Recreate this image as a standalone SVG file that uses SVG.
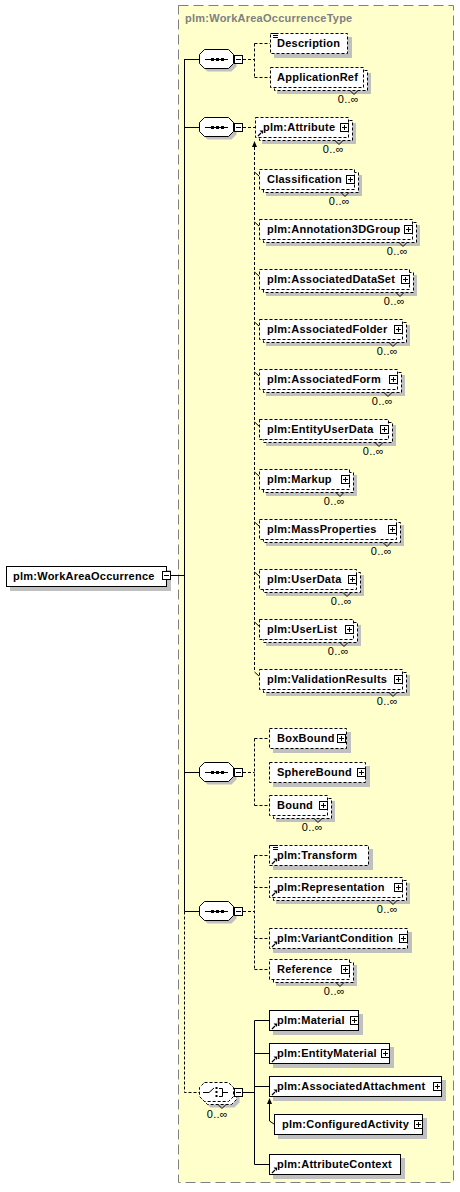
<svg xmlns="http://www.w3.org/2000/svg" xmlns:xlink="http://www.w3.org/1999/xlink" width="460" height="1192" viewBox="0 0 460 1192">
<style>
.t{font-family:"Liberation Sans",Arial,sans-serif;font-size:11px;font-weight:bold;letter-spacing:0.25px;fill:#000}
.tt{font-family:"Liberation Sans",Arial,sans-serif;font-size:11px;font-weight:bold;letter-spacing:0.25px;fill:#808080}
.m{font-family:"Liberation Sans",Arial,sans-serif;font-size:11px;letter-spacing:0.3px;fill:#000;text-anchor:end}
.box{fill:#fff;stroke:#000;stroke-width:1}
.opt{stroke-dasharray:3,2}
.sh{fill:#c0c0c0}
.ln{stroke:#000;stroke-width:1;fill:none}
.dl{stroke-dasharray:3,2}
.tk{stroke:#000;stroke-width:1;fill:none}
</style>
<defs>
<g id="plus"><rect x="0.5" y="0.5" width="8" height="8" fill="#fff" stroke="#000"/><path d="M2,4.5H7M4.5,2V7" stroke="#000"/></g>
<g id="minus"><rect x="0.5" y="0.5" width="8" height="8" fill="#fff" stroke="#000"/><path d="M2,4.5H7" stroke="#000"/></g>
<g id="ref"><path d="M1,6L4,3" stroke="#000" stroke-width="1.2"/><polygon points="2.5,0.5 6,0.5 6,4" fill="#000"/></g>
<g id="doc"><rect x="0" y="-0.5" width="6" height="6" fill="#fff"/><path d="M0,0.5H6M1,2.5H6M1,4.5H6" stroke="#000"/></g>
<polygon id="oct" points="5.5,-9.5 29.5,-9.5 34.5,-4.5 34.5,4.5 29.5,9.5 5.5,9.5 0.5,4.5 0.5,-4.5"/>
<g id="seq">
<use xlink:href="#oct" transform="translate(3,3)" class="sh"/>
<use xlink:href="#oct" fill="#fff" stroke="#000"/>
<path d="M6,0.5H29" stroke="#000"/>
<rect x="12" y="-1" width="3" height="3" fill="#000"/>
<rect x="17" y="-1" width="3" height="3" fill="#000"/>
<rect x="22" y="-1" width="3" height="3" fill="#000"/>
<use xlink:href="#minus" x="35" y="-4"/>
</g>
</defs>

<rect x="178.5" y="5.5" width="275" height="1177" fill="#ffffcc" stroke="#808080" stroke-dasharray="10,5"/>
<text class="tt" x="185" y="22">plm:WorkAreaOccurrenceType</text>

<g id="connectors">
<path class="ln" d="M171,575.5H184.5M184.5,59V911.5"/>
<path class="ln dl" d="M184.5,911.5V1092.5H199"/>
<path class="ln" d="M184.5,59.5H199M184.5,127.5H199M184.5,772.5H199M184.5,911.5H199"/>
<path class="ln dl" d="M243,59.5H254.5M254.5,43.5V77.5M254.5,43.5H270M254.5,77.5H270"/>
<path class="ln dl" d="M243,127.5H255"/>
<path class="ln dl" d="M254.5,147V672"/>
<polygon points="254.5,141 252,147 257,147" fill="#000"/>
<path class="ln" d="M254.5,172L259,176M254.5,222L259,226M254.5,272L259,276M254.5,322L259,326M254.5,372L259,376M254.5,422L259,426M254.5,472L259,476M254.5,522L259,526M254.5,572L259,576M254.5,622L259,626M254.5,672L259,676"/>
<path class="ln dl" d="M243,772.5H254.5M254.5,738.5V805.5M254.5,738.5H269M254.5,805.5H269"/>
<path class="ln dl" d="M243,911.5H254.5M254.5,855.5V969.5M254.5,855.5H269M254.5,887.5H269M254.5,938.5H269M254.5,969.5H269"/>
<path class="ln" d="M243,1092.5H254.5M254.5,1020.5V1164.5M254.5,1020.5H269M254.5,1053.5H269M254.5,1086.5H269M254.5,1164.5H269"/>
<path class="ln" d="M269.5,1104V1121L274,1124"/>
<polygon points="269.5,1098 267,1104 272,1104" fill="#000"/>
</g>

<g id="n-root">
<rect class="sh" x="10" y="570" width="161" height="21"/>
<rect class="box" x="6.5" y="566.5" width="160" height="20"/>
<text class="t" x="13" y="580">plm:WorkAreaOccurrence</text>
<use xlink:href="#minus" x="162" y="571"/>
</g>

<g id="c-seq1"><use xlink:href="#seq" transform="translate(199,59)"/></g>
<g id="c-seq2"><use xlink:href="#seq" transform="translate(199,127)"/></g>
<g id="c-seq3"><use xlink:href="#seq" transform="translate(199,772)"/></g>
<g id="c-seq4"><use xlink:href="#seq" transform="translate(199,911)"/></g>
<g id="c-choice" transform="translate(199,1092)">
<use xlink:href="#oct" transform="translate(6,6)" class="sh"/>
<use xlink:href="#oct" transform="translate(3,3)" fill="#fff" stroke="#000" stroke-dasharray="3,2"/>
<use xlink:href="#oct" fill="#fff" stroke="#000" stroke-dasharray="3,2"/>
<path d="M4,0.5H10L15,-4M20,-3.5H23.5V4.5H20M23.5,0.5H29" stroke="#000" fill="none"/>
<rect x="16.5" y="-5" width="2" height="2" fill="#000"/>
<rect x="16.5" y="-1" width="2" height="2" fill="#000"/>
<rect x="16.5" y="3" width="2" height="2" fill="#000"/>
<polyline class="tk" points="19,12.5 23,16.5 27,12.5"/>
<use xlink:href="#minus" x="35" y="-4"/>
<text class="m" x="29" y="26">0..∞</text>
</g>

<g id="n-description">
<rect class="sh" x="274" y="37" width="78" height="21"/>
<rect class="box opt" x="270.5" y="33.5" width="77" height="20"/>
<text class="t" x="277" y="47">Description</text>
<use xlink:href="#doc" x="272" y="33"/>
</g>
<g id="n-applicationref">
<rect class="sh" x="277" y="73" width="94" height="21"/>
<rect class="box opt" x="274.5" y="70.5" width="93" height="20"/>
<rect class="box opt" x="270.5" y="67.5" width="93" height="20"/>
<text class="t" x="277" y="81">ApplicationRef</text>
<polyline class="tk" points="350,90.5 354,94.5 358,90.5"/>
<text class="m" x="359" y="103">0..∞</text>
</g>

<g id="n-attribute">
<rect class="sh" x="262" y="123" width="94" height="21"/>
<rect class="box opt" x="259.5" y="120.5" width="93" height="20"/>
<rect class="box opt" x="255.5" y="117.5" width="93" height="20"/>
<text class="t" x="263" y="131">plm:Attribute</text>
<use xlink:href="#ref" x="257" y="130"/>
<use xlink:href="#plus" x="340" y="123"/>
<polyline class="tk" points="335,140.5 339,144.5 343,140.5"/>
<text class="m" x="344" y="153">0..∞</text>
</g>

<g id="n-classification">
<rect class="sh" x="266" y="175" width="96" height="21"/>
<rect class="box opt" x="263.5" y="172.5" width="95" height="20"/>
<rect class="box opt" x="259.5" y="169.5" width="95" height="20"/>
<text class="t" x="267" y="183">Classification</text>
<use xlink:href="#plus" x="346" y="175"/>
<polyline class="tk" points="341,192.5 345,196.5 349,192.5"/>
<text class="m" x="350" y="205">0..∞</text>
</g>

<g id="n-annotation3dgroup">
<rect class="sh" x="266" y="225" width="154" height="21"/>
<rect class="box opt" x="263.5" y="222.5" width="153" height="20"/>
<rect class="box opt" x="259.5" y="219.5" width="153" height="20"/>
<text class="t" x="267" y="233">plm:Annotation3DGroup</text>
<use xlink:href="#plus" x="404" y="225"/>
<polyline class="tk" points="399,242.5 403,246.5 407,242.5"/>
<text class="m" x="408" y="255">0..∞</text>
</g>

<g id="n-associateddataset">
<rect class="sh" x="266" y="275" width="151" height="21"/>
<rect class="box opt" x="263.5" y="272.5" width="150" height="20"/>
<rect class="box opt" x="259.5" y="269.5" width="150" height="20"/>
<text class="t" x="267" y="283">plm:AssociatedDataSet</text>
<use xlink:href="#plus" x="401" y="275"/>
<polyline class="tk" points="396,292.5 400,296.5 404,292.5"/>
<text class="m" x="405" y="305">0..∞</text>
</g>

<g id="n-associatedfolder">
<rect class="sh" x="266" y="325" width="144" height="21"/>
<rect class="box opt" x="263.5" y="322.5" width="143" height="20"/>
<rect class="box opt" x="259.5" y="319.5" width="143" height="20"/>
<text class="t" x="267" y="333">plm:AssociatedFolder</text>
<use xlink:href="#plus" x="394" y="325"/>
<polyline class="tk" points="389,342.5 393,346.5 397,342.5"/>
<text class="m" x="398" y="355">0..∞</text>
</g>

<g id="n-associatedform">
<rect class="sh" x="266" y="375" width="139" height="21"/>
<rect class="box opt" x="263.5" y="372.5" width="138" height="20"/>
<rect class="box opt" x="259.5" y="369.5" width="138" height="20"/>
<text class="t" x="267" y="383">plm:AssociatedForm</text>
<use xlink:href="#plus" x="389" y="375"/>
<polyline class="tk" points="384,392.5 388,396.5 392,392.5"/>
<text class="m" x="393" y="405">0..∞</text>
</g>

<g id="n-entityuserdata">
<rect class="sh" x="266" y="425" width="130" height="21"/>
<rect class="box opt" x="263.5" y="422.5" width="129" height="20"/>
<rect class="box opt" x="259.5" y="419.5" width="129" height="20"/>
<text class="t" x="267" y="433">plm:EntityUserData</text>
<use xlink:href="#plus" x="380" y="425"/>
<polyline class="tk" points="375,442.5 379,446.5 383,442.5"/>
<text class="m" x="384" y="455">0..∞</text>
</g>

<g id="n-markup">
<rect class="sh" x="266" y="475" width="91" height="21"/>
<rect class="box opt" x="263.5" y="472.5" width="90" height="20"/>
<rect class="box opt" x="259.5" y="469.5" width="90" height="20"/>
<text class="t" x="267" y="483">plm:Markup</text>
<use xlink:href="#plus" x="341" y="475"/>
<polyline class="tk" points="336,492.5 340,496.5 344,492.5"/>
<text class="m" x="345" y="505">0..∞</text>
</g>

<g id="n-massproperties">
<rect class="sh" x="266" y="525" width="138" height="21"/>
<rect class="box opt" x="263.5" y="522.5" width="137" height="20"/>
<rect class="box opt" x="259.5" y="519.5" width="137" height="20"/>
<text class="t" x="267" y="533">plm:MassProperties</text>
<use xlink:href="#plus" x="388" y="525"/>
<polyline class="tk" points="383,542.5 387,546.5 391,542.5"/>
<text class="m" x="392" y="555">0..∞</text>
</g>

<g id="n-userdata">
<rect class="sh" x="266" y="575" width="98" height="21"/>
<rect class="box opt" x="263.5" y="572.5" width="97" height="20"/>
<rect class="box opt" x="259.5" y="569.5" width="97" height="20"/>
<text class="t" x="267" y="583">plm:UserData</text>
<use xlink:href="#plus" x="348" y="575"/>
<polyline class="tk" points="343,592.5 347,596.5 351,592.5"/>
<text class="m" x="352" y="605">0..∞</text>
</g>

<g id="n-userlist">
<rect class="sh" x="266" y="625" width="95" height="21"/>
<rect class="box opt" x="263.5" y="622.5" width="94" height="20"/>
<rect class="box opt" x="259.5" y="619.5" width="94" height="20"/>
<text class="t" x="267" y="633">plm:UserList</text>
<use xlink:href="#plus" x="345" y="625"/>
<polyline class="tk" points="340,642.5 344,646.5 348,642.5"/>
<text class="m" x="349" y="655">0..∞</text>
</g>

<g id="n-validationresults">
<rect class="sh" x="266" y="675" width="144" height="21"/>
<rect class="box opt" x="263.5" y="672.5" width="143" height="20"/>
<rect class="box opt" x="259.5" y="669.5" width="143" height="20"/>
<text class="t" x="267" y="683">plm:ValidationResults</text>
<use xlink:href="#plus" x="394" y="675"/>
<polyline class="tk" points="389,692.5 393,696.5 397,692.5"/>
<text class="m" x="398" y="705">0..∞</text>
</g>

<g id="n-boxbound">
<rect class="sh" x="273" y="732" width="78" height="21"/>
<rect class="box opt" x="269.5" y="728.5" width="77" height="20"/>
<text class="t" x="277" y="742">BoxBound</text>
<use xlink:href="#plus" x="337" y="734"/>
</g>

<g id="n-spherebound">
<rect class="sh" x="273" y="766" width="97" height="21"/>
<rect class="box opt" x="269.5" y="762.5" width="96" height="20"/>
<text class="t" x="277" y="776">SphereBound</text>
<use xlink:href="#plus" x="357" y="768"/>
</g>

<g id="n-bound">
<rect class="sh" x="276" y="801" width="59" height="21"/>
<rect class="box opt" x="273.5" y="798.5" width="58" height="20"/>
<rect class="box opt" x="269.5" y="795.5" width="58" height="20"/>
<text class="t" x="277" y="809">Bound</text>
<use xlink:href="#plus" x="319" y="801"/>
<polyline class="tk" points="314,818.5 318,822.5 322,818.5"/>
<text class="m" x="323" y="831">0..∞</text>
</g>

<g id="n-transform">
<rect class="sh" x="273" y="849" width="100" height="21"/>
<rect class="box opt" x="269.5" y="845.5" width="99" height="20"/>
<text class="t" x="277" y="859">plm:Transform</text>
<use xlink:href="#doc" x="272" y="845"/>
<use xlink:href="#ref" x="271" y="858"/>
</g>

<g id="n-representation">
<rect class="sh" x="276" y="883" width="134" height="21"/>
<rect class="box opt" x="273.5" y="880.5" width="133" height="20"/>
<rect class="box opt" x="269.5" y="877.5" width="133" height="20"/>
<text class="t" x="277" y="891">plm:Representation</text>
<use xlink:href="#ref" x="271" y="890"/>
<use xlink:href="#plus" x="394" y="883"/>
<polyline class="tk" points="389,900.5 393,904.5 397,900.5"/>
<text class="m" x="398" y="913">0..∞</text>
</g>

<g id="n-variantcondition">
<rect class="sh" x="273" y="932" width="139" height="21"/>
<rect class="box opt" x="269.5" y="928.5" width="138" height="20"/>
<text class="t" x="277" y="942">plm:VariantCondition</text>
<use xlink:href="#ref" x="271" y="941"/>
<use xlink:href="#plus" x="399" y="934"/>
</g>

<g id="n-reference">
<rect class="sh" x="276" y="965" width="81" height="21"/>
<rect class="box opt" x="273.5" y="962.5" width="80" height="20"/>
<rect class="box opt" x="269.5" y="959.5" width="80" height="20"/>
<text class="t" x="277" y="973">Reference</text>
<use xlink:href="#plus" x="341" y="965"/>
<polyline class="tk" points="336,982.5 340,986.5 344,982.5"/>
<text class="m" x="345" y="995">0..∞</text>
</g>

<g id="n-material">
<rect class="sh" x="273" y="1014" width="90" height="21"/>
<rect class="box" x="269.5" y="1010.5" width="89" height="20"/>
<text class="t" x="277" y="1024">plm:Material</text>
<use xlink:href="#ref" x="271" y="1023"/>
<use xlink:href="#plus" x="350" y="1016"/>
</g>

<g id="n-entitymaterial">
<rect class="sh" x="273" y="1047" width="121" height="21"/>
<rect class="box" x="269.5" y="1043.5" width="120" height="20"/>
<text class="t" x="277" y="1057">plm:EntityMaterial</text>
<use xlink:href="#ref" x="271" y="1056"/>
<use xlink:href="#plus" x="381" y="1049"/>
</g>

<g id="n-associatedattachment">
<rect class="sh" x="273" y="1080" width="173" height="21"/>
<rect class="box" x="269.5" y="1076.5" width="172" height="20"/>
<text class="t" x="277" y="1090">plm:AssociatedAttachment</text>
<use xlink:href="#ref" x="271" y="1089"/>
<use xlink:href="#plus" x="433" y="1082"/>
</g>

<g id="n-configuredactivity">
<rect class="sh" x="278" y="1118" width="149" height="21"/>
<rect class="box" x="274.5" y="1114.5" width="148" height="20"/>
<text class="t" x="282" y="1128">plm:ConfiguredActivity</text>
<use xlink:href="#plus" x="414" y="1120"/>
</g>

<g id="n-attributecontext">
<rect class="sh" x="273" y="1158" width="132" height="21"/>
<rect class="box" x="269.5" y="1154.5" width="131" height="20"/>
<text class="t" x="277" y="1168">plm:AttributeContext</text>
<use xlink:href="#ref" x="271" y="1167"/>
</g>
</svg>
